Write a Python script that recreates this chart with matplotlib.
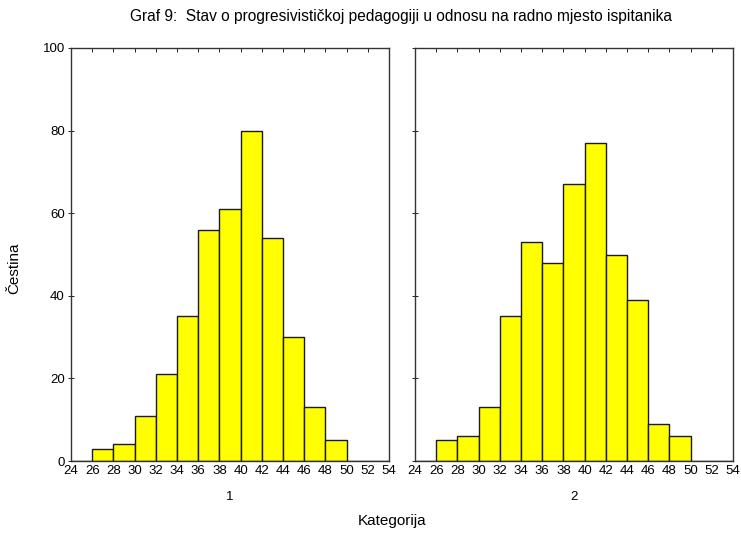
import matplotlib.pyplot as plt
import numpy as np

plt.rcParams['font.family'] = ['Liberation Sans', 'DejaVu Sans']

# bin left edges (Kategorija) and counts for the two groups
bin_left = [24, 26, 28, 30, 32, 34, 36, 38, 40, 42, 44, 46, 48, 50, 52]
counts_1 = [0, 3, 4, 11, 21, 35, 56, 61, 80, 54, 30, 13, 5, 0, 0]
counts_2 = [0, 5, 6, 13, 35, 53, 48, 67, 77, 50, 39, 9, 6, 0, 0]
group_labels = ['1', '2']
x_ticks = list(range(24, 55, 2))
y_ticks = [0, 20, 40, 60, 80, 100]

fig = plt.figure(figsize=(7.41, 5.34), dpi=100, facecolor='white')

W, H = 741, 534
# axes boxes in pixel coords: left, top, right, bottom
boxes = [(71, 48, 389, 461), (415, 48, 733, 461)]

for i, (counts, box) in enumerate(zip([counts_1, counts_2], boxes)):
    l, t, r, b = box
    ax = fig.add_axes([l / W, 1 - b / H, (r - l) / W, (b - t) / H])
    ax.bar(bin_left, counts, width=2, align='edge', color='#ffff00',
           edgecolor='#1a1a1a', linewidth=1.0)
    ax.set_xlim(24, 54)
    ax.set_ylim(0, 100)
    ax.set_xticks(x_ticks)
    ax.set_yticks(y_ticks)
    ax.tick_params(axis='x', which='both', top=True, bottom=False,
                   labeltop=False, labelbottom=True, direction='in',
                   length=3, width=0.6, labelsize=9.5, pad=3)
    ax.tick_params(axis='y', which='both', left=True, right=False,
                   direction='inout', length=5, width=0.6, labelsize=9.5, pad=2)
    if i == 1:
        ax.tick_params(axis='y', labelleft=False)
    for s in ax.spines.values():
        s.set_linewidth(1.0)
        s.set_color('#333333')
    ax.text(0.5, -0.072, group_labels[i], transform=ax.transAxes,
            ha='center', va='top', fontsize=9.5)

fig.text(401 / W, 1 - 16 / H,
         'Graf 9:  Stav o progresivističkoj pedagogiji u odnosu na radno mjesto ispitanika',
         ha='center', va='center', fontsize=11.2)
fig.text(14 / W, 1 - 268 / H, 'Čestina', rotation=90, ha='center',
         va='center', fontsize=11)
fig.text(392 / W, 1 - 521 / H, 'Kategorija', ha='center', va='center',
         fontsize=11)

fig.savefig('out.png', dpi=100, facecolor='white')
